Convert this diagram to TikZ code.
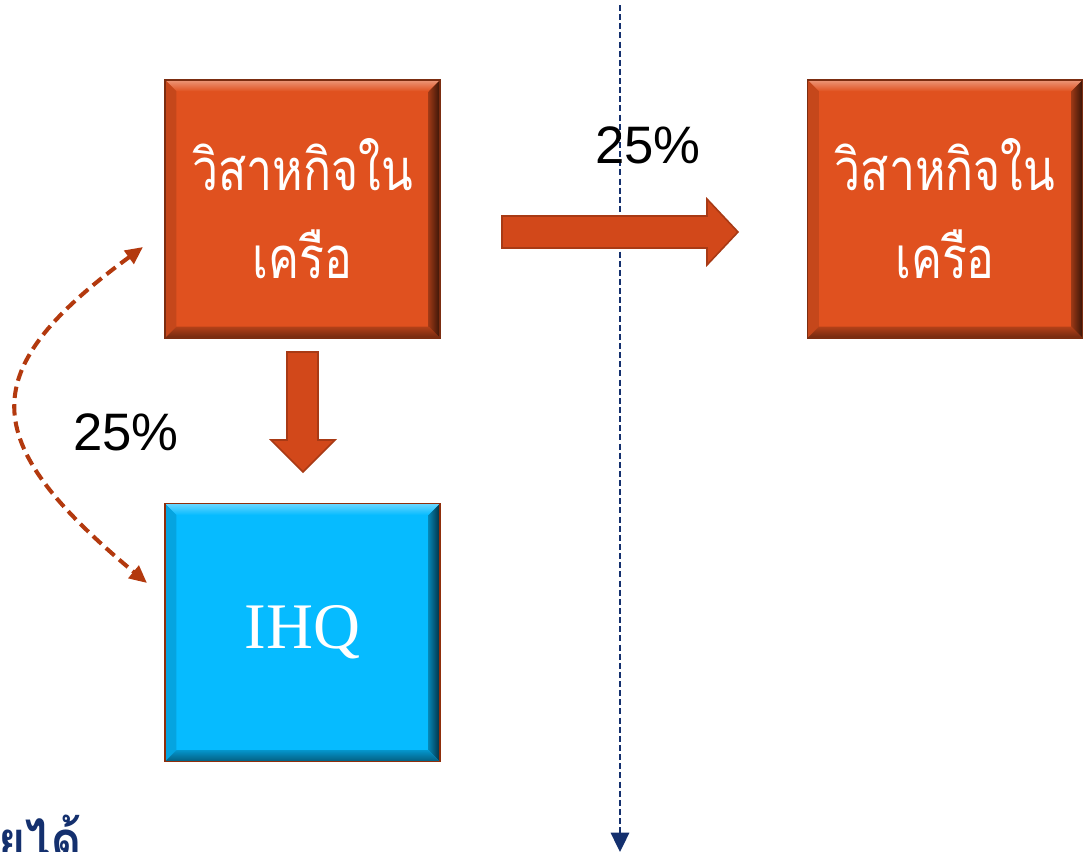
\documentclass[tikz,border=0pt]{standalone}
\usepackage{fontspec}
\setmainfont{Liberation Serif}
\newfontfamily\thaifont[Script=Thai, FakeStretch=0.8]{Loma}
\newfontfamily\notefont[Script=Thai, FakeStretch=0.85]{Loma}
\newfontfamily\pctfont{Liberation Sans}
\usepackage{xcolor}
\definecolor{morange}{HTML}{E0511F}
\definecolor{mblue}{HTML}{06BBFF}
\definecolor{marrow}{HTML}{D2481A}
\definecolor{mrust}{HTML}{B3390E}
\definecolor{mnavy}{HTML}{14306E}
\usetikzlibrary{arrows.meta,calc}

\tikzset{
  % raised box with a bevelled rim
  bevelbox/.style={draw=#1!55!black, line width=0.8pt, fill=#1,
    minimum width=5.5cm, minimum height=5.16cm, inner sep=0pt,
    text width=5.3cm, text=white, align=center,
    path picture={
      \def\bw{6.5pt}
      \coordinate (pnw) at (path picture bounding box.north west);
      \coordinate (pne) at (path picture bounding box.north east);
      \coordinate (psw) at (path picture bounding box.south west);
      \coordinate (pse) at (path picture bounding box.south east);
      \shade[top color=#1!60!white, bottom color=#1] (pnw) -- (pne) -- ([shift={(-\bw,-\bw)}]pne) -- ([shift={(\bw,-\bw)}]pnw) -- cycle;
      \fill[#1!88!black] (pnw) -- (psw) -- ([shift={(\bw,\bw)}]psw) -- ([shift={(\bw,-\bw)}]pnw) -- cycle;
      \shade[left color=#1!70!black, right color=#1!25!black] (pne) -- (pse) -- ([shift={(-\bw,\bw)}]pse) -- ([shift={(-\bw,-\bw)}]pne) -- cycle;
      \shade[top color=#1!80!black, bottom color=#1!50!black] (psw) -- (pse) -- ([shift={(-\bw,\bw)}]pse) -- ([shift={(\bw,\bw)}]psw) -- cycle;
    }},
  blockarrow/.style={fill=marrow, draw=marrow!80!black, line width=0.9pt},
  pct/.style={font=\pctfont\fontsize{30}{34}\selectfont, text=black}
}

\begin{document}
\begin{tikzpicture}[x=0.02cm, y=-0.02cm]
  \useasboundingbox (0,0) rectangle (1090,852);

  % Boxes
  \node[bevelbox=morange, font=\thaifont\fontsize{33}{50}\selectfont] (ent) at (302.5,209) {วิสาหกิจใน\\เครือ};
  \node[bevelbox=morange, font=\thaifont\fontsize{33}{50}\selectfont] (ento) at (945,209) {วิสาหกิจใน\\เครือ};
  \node[bevelbox=mblue, draw=mrust!80!black, font=\fontsize{37}{44}\selectfont] (ihq) at (302.5,632.5) {IHQ};

  % Border line
  \coordinate (btop) at (620,5);
  \coordinate (bbot) at (620,852);
  \draw[mnavy, line width=1.1pt, dash pattern=on 3.4pt off 1.8pt,
    -{Triangle[length=11pt, width=10.5pt]}] (btop) -- (bbot);

  % Block arrows
  \draw[blockarrow] (502,216) -- (707,216) -- (707,199) -- (738,232)
    -- (707,265) -- (707,248) -- (502,248) -- cycle;
  \draw[blockarrow] (287,352) -- (318,352) -- (318,440) -- (335,440)
    -- (303,472) -- (271,440) -- (287,440) -- cycle;

  % Dashed loop between the entity and IHQ
  \coordinate (ltop) at (143,247);
  \coordinate (lbot) at (147,583);
  \draw[mrust, line width=2.3pt, dash pattern=on 6.5pt off 3.5pt,
    {Triangle[length=10pt, width=9pt]}-{Triangle[length=10pt, width=9pt]}]
    (ltop) .. controls (-25,370) and (-25,440) .. (lbot);

  % Labels
  \node[pct] (pa) at (648,145) {25\%};
  \node[pct] (pb) at (126,432) {25\%};
  \node[anchor=base east, text=mnavy, inner sep=0pt, font=\notefont\bfseries\fontsize{31}{34}\selectfont] (note) at (82,860) {ยได้};
\end{tikzpicture}
\end{document}
